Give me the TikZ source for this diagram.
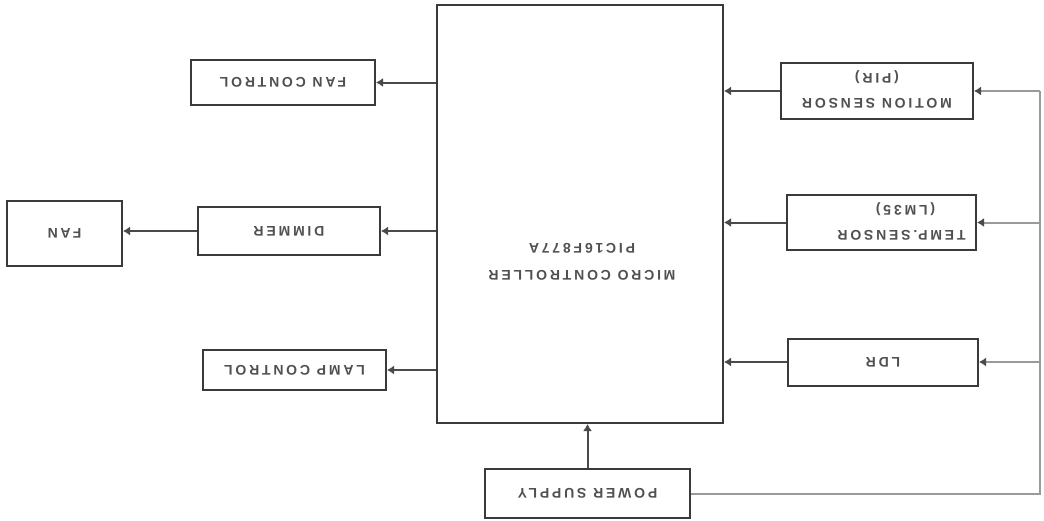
\documentclass[tikz,border=0pt]{standalone}
\usepackage{fontspec}
\newfontfamily\lblfont[LetterSpace=20]{Liberation Sans Bold}
\usetikzlibrary{arrows.meta}
\definecolor{boxc}{HTML}{3A3A3A}
\definecolor{linec}{HTML}{4A4A4A}
\definecolor{pwrc}{HTML}{9A9A9A}
\definecolor{txtc}{HTML}{505050}
\newcommand{\updown}[1]{\rotatebox{180}{\begin{tabular}{@{}c@{}}#1\end{tabular}}}
\tikzset{
  blk/.style={draw=boxc, line width=2pt, fill=white, inner sep=0pt, text=txtc,
    font=\lblfont\fontsize{14}{25}\selectfont},
  conn/.style={draw=linec, line width=2pt, -{Latex[length=7pt,width=9pt]}},
  pwr/.style={draw=pwrc, line width=2pt},
  pwrarr/.style={draw=pwrc, line width=2pt, -{Latex[length=7pt,width=9pt,color=linec]}}
}
\begin{document}
\begin{tikzpicture}[x=1pt,y=-1pt]
\useasboundingbox[fill=white] (0,0) rectangle (1044,520);
% micro controller
\node[blk, minimum width=286pt, minimum height=418pt] (mcu) at (580,214) {};
\node[text=txtc, font=\lblfont\fontsize{14}{27}\selectfont, rotate=180, align=center] (mcutxt) at (582,262) {MICRO CONTROLLER\\PIC16F877A};
% outputs
\node[blk, minimum width=184pt, minimum height=45pt] (fc) at (283,82.5) {\updown{FAN CONTROL}};
\node[blk, minimum width=182pt, minimum height=48pt] (dim) at (289,231) {\updown{DIMMER}};
\node[blk, minimum width=115pt, minimum height=65pt] (fan) at (64.5,233) {\updown{FAN}};
\node[blk, minimum width=183pt, minimum height=40pt] (lamp) at (294.5,370) {\updown{LAMP CONTROL}};
% inputs
\node[blk, minimum width=192pt, minimum height=56pt] (mot) at (877,91) {\updown{MOTION SENSOR\\(PIR)}};
\node[blk, minimum width=189pt, minimum height=55pt] (tmp) at (881.5,222.5) {\updown{TEMP.SENSOR\hspace*{40pt}\\(LM35)\hspace*{48pt}}};
\node[blk, minimum width=190pt, minimum height=47pt] (ldr) at (883,362) {\updown{LDR}};
\node[blk, minimum width=205pt, minimum height=49pt] (ps) at (587.5,493.5) {\updown{POWER SUPPLY}};
% connectors out
\draw[conn] (mcu.west |- fc.east) -- (fc.east);
\draw[conn] (mcu.west |- dim.east) -- (dim.east);
\draw[conn] (dim.west) -- (fan.east |- dim.west);
\draw[conn] (mcu.west |- lamp.east) -- (lamp.east);
% connectors in
\draw[conn] (mot.west) -- (mcu.east |- mot.west);
\draw[conn] (tmp.west) -- (mcu.east |- tmp.west);
\draw[conn] (ldr.west) -- (mcu.east |- ldr.west);
\draw[conn] (ps.north) -- (ps.north |- mcu.south);
% power rail
\coordinate (rail) at (1040,91);
\draw[pwr] (ps.east) -| (rail);
\draw[pwrarr] (rail) -- (mot.east);
\draw[pwrarr] (rail |- tmp.east) -- (tmp.east);
\draw[pwrarr] (rail |- ldr.east) -- (ldr.east);
\end{tikzpicture}
\end{document}
